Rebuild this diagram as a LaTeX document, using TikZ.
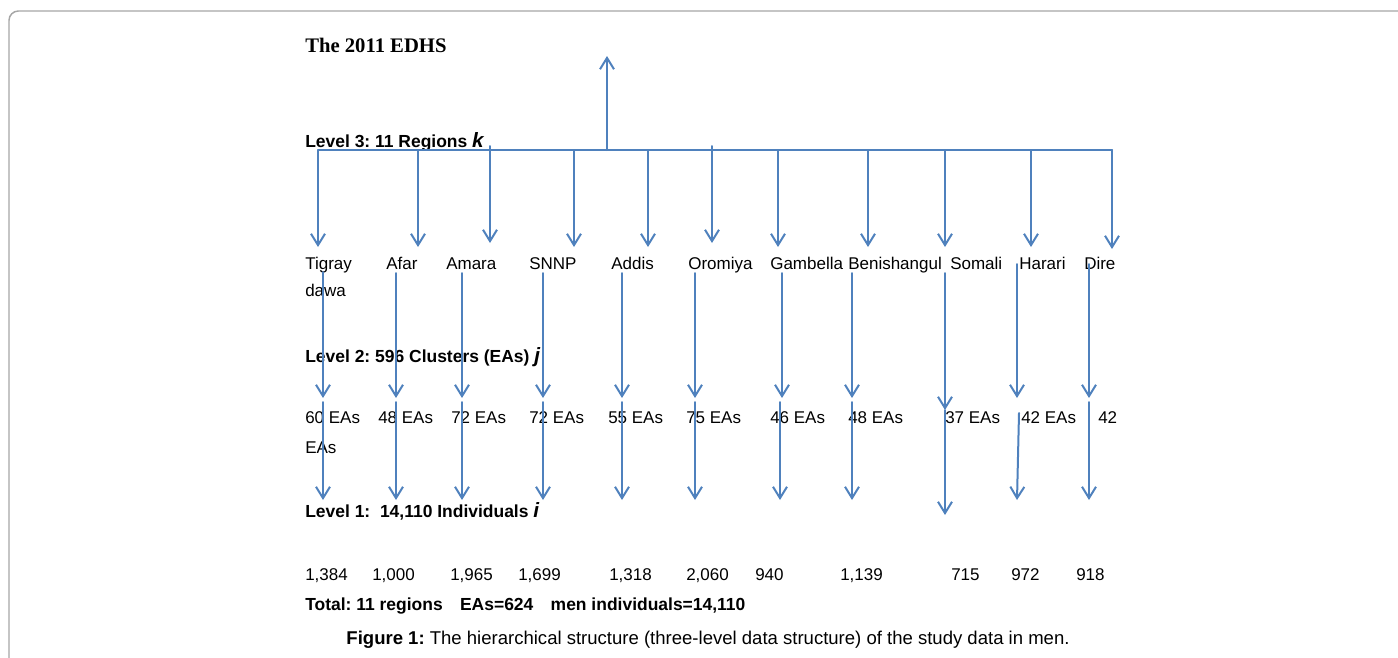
\documentclass[tikz,border=0pt]{standalone}
\usepackage{fontspec}
\setmainfont{Liberation Sans}
\newfontfamily\timesfont{Liberation Serif}
\usetikzlibrary{arrows.meta}
\definecolor{linkblue}{HTML}{4F81BD}
\definecolor{framegray}{HTML}{A6A6A6}
\frenchspacing

\begin{document}
\begin{tikzpicture}[line cap=round,line join=round,>={Straight Barb[length=8.5pt,width=10.5pt]},x=0.75pt,y=-0.75pt,
	txt/.style={anchor=base west,inner sep=0pt,font=\fontsize{12.75}{15}\selectfont},
	boldtxt/.style={txt,font=\fontsize{13.1}{15}\selectfont\bfseries},
	link/.style={color=linkblue,line width=1.5pt}]
		\useasboundingbox (0,0) rectangle (1398,657);
		\draw[framegray,line width=1.1pt,rounded corners=7pt] (9,670) -- (9,11) -- (1410,11);
		% headings
		\node[anchor=base west,inner sep=0pt,font=\timesfont\fontsize{15.5}{18}\selectfont\bfseries] (title) at (305,52) {The 2011 EDHS};
		\node[boldtxt] (lvl3) at (305,147) {Level 3: 11 Regions {\fontsize{15.5}{15}\selectfont\itshape k}};
		\node[boldtxt] (lvl2) at (305,362) {Level 2: 596 Clusters (EAs) {\fontsize{15.5}{15}\selectfont\itshape j}};
		\node[boldtxt] (lvl1) at (305,517) {Level 1:\ \ 14,110 Individuals {\fontsize{15.5}{15}\selectfont\itshape i}};
		\node[boldtxt] (total) at (305,610) {Total: 11 regions\hspace{13pt}EAs=624\hspace{13pt}men individuals=14,110};
		\node[anchor=base,inner sep=0pt,font=\fontsize{13.9}{16}\selectfont] (caption) at (708,644) {\textbf{Figure 1:} The hierarchical structure (three-level data structure) of the study data in men.};
		% regions, clusters, individuals
		\foreach \nm/\xx/\txt in {tigray/305/Tigray,afar/386/Afar,amara/446/Amara,snnp/529/SNNP,addis/611/Addis,oromiya/688/Oromiya,gambella/770/Gambella,benish/848/Benishangul,somali/950/Somali,harari/1019/Harari,dire/1084/Dire}
		\node[txt] (\nm) at (\xx,269) {\txt};
		\node[txt] (dawa) at (305,296) {dawa};
		\foreach \xx/\txt [count=\n] in {305/60 EAs,378/48 EAs,451/72 EAs,529/72 EAs,608/55 EAs,686/75 EAs,770/46 EAs,848/48 EAs,945/37 EAs,1021/42 EAs,1098/42}
		\node[txt] (ea\n) at (\xx,423) {\txt};
		\node[txt] (eawrap) at (305,453) {EAs};
		\foreach \xx/\txt [count=\n] in {305/{1,384},372/{1,000},450/{1,965},518/{1,699},609/{1,318},686/{2,060},755/940,840/{1,139},951/715,1011/972,1076/918}
		\node[txt] (men\n) at (\xx,580) {\txt};
		% arrows
		\coordinate (barl) at (318,150);
		\coordinate (barr) at (1112,150);
		\coordinate (root) at (607,150);
		\coordinate (apex) at (607,56);
		\draw[link] (barl) -- (barr);
		\draw[link,->] (root) -- (apex);
		\foreach \xx/\ya/\yb [count=\n] in {318/150/247,418/150/247,490/146/243,574/150/247,648/150/247,712/146/243,778/150/247,868/150/247,945/150/247,1031/150/247,1112/150/249}{
		\coordinate (top\n) at (\xx,\ya);
		\coordinate (reg\n) at (\xx,\yb);
		\draw[link,->] (top\n) -- (reg\n);}
		\foreach \xx/\ya/\yb [count=\n] in {323/272/398,396/273/398,462/273/398,543/273/398,622/273/398,695/273/398,782/273/398,852/273/398,945/273/410,1017/264/398,1089/264/398}{
		\coordinate (ra\n) at (\xx,\ya);
		\coordinate (rb\n) at (\xx,\yb);
		\draw[link,->] (ra\n) -- (rb\n);}
		\foreach \xa/\ya/\xb/\yb [count=\n] in {323/402/323/500,396/402/396/500,462/402/462/500,543/402/543/500,622/402/622/500,695/402/695/500,780/402/780/500,852/402/852/500,945/410/945/515,1019/413/1017/500,1089/402/1089/500}{
		\coordinate (ca\n) at (\xa,\ya);
		\coordinate (cb\n) at (\xb,\yb);
		\draw[link,->] (ca\n) -- (cb\n);}
\end{tikzpicture}
\end{document}
